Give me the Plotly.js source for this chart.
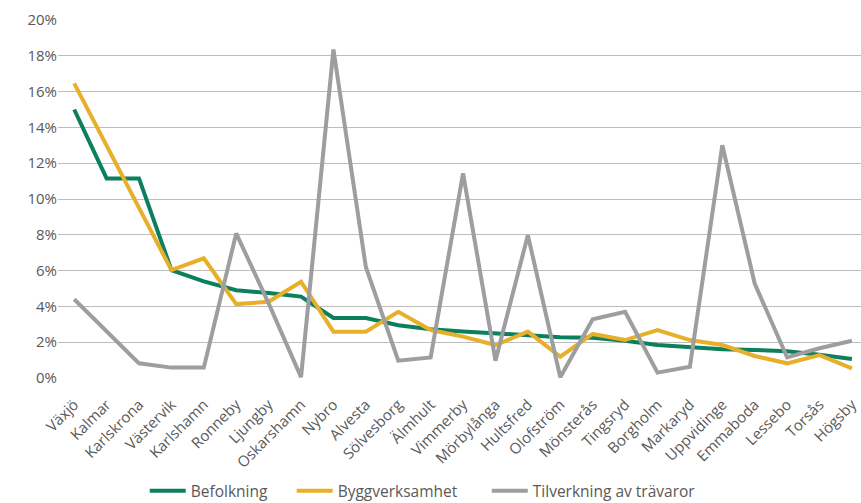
<!DOCTYPE html>
<html>
<head>
<meta charset="utf-8">
<script src="https://cdn.plot.ly/plotly-3.0.1.min.js"></script>
<style>html,body{margin:0;padding:0;background:#fff;}#chart{width:861px;height:503px;}</style>
</head>
<body>
<div id="chart"></div>
<script>
const categories = ["Växjö","Kalmar","Karlskrona","Västervik","Karlshamn","Ronneby","Ljungby","Oskarshamn","Nybro","Alvesta","Sölvesborg","Älmhult","Vimmerby","Mörbylånga","Hultsfred","Olofström","Mönsterås","Tingsryd","Borgholm","Markaryd","Uppvidinge","Emmaboda","Lessebo","Torsås","Högsby"];
const befolkning = [15.0,11.15,11.15,6.03,5.4,4.9,4.75,4.55,3.35,3.35,2.95,2.72,2.6,2.5,2.4,2.28,2.25,2.08,1.85,1.7,1.6,1.57,1.5,1.3,1.06];
const byggverksamhet = [16.46,12.98,9.5,6.03,6.69,4.13,4.26,5.38,2.59,2.59,3.7,2.68,2.31,1.84,2.59,1.19,2.46,2.12,2.68,2.12,1.84,1.23,0.82,1.28,0.54];
const travaror = [4.4,2.64,0.82,0.58,0.58,8.08,4.17,0.05,18.35,6.2,0.97,1.15,11.43,0.97,7.98,0.04,3.28,3.7,0.3,0.63,13.0,5.28,1.15,1.66,2.08];
const seriesNames = ["Befolkning","Byggverksamhet","Tilverkning av trävaror"];
const yTicks = [0,2,4,6,8,10,12,14,16,18,20];

const colors = ["#0c7f5f","#e8b02a","#9c9ea0"];
const legendIds = ["legend","legend2","legend3"];
const data = [befolkning, byggverksamhet, travaror].map((vals, i) => ({
  type: "scatter", mode: "lines", name: seriesNames[i], legend: legendIds[i],
  x: categories, y: vals,
  line: {color: colors[i], width: 4}
}));

const legendStyle = (x) => ({orientation: "h", x: x, xanchor: "left", y: -0.316, yanchor: "middle",
  font: {size: 15.5, color: "#595959"}, itemwidth: 36, bgcolor: "rgba(0,0,0,0)"});

const layout = {
  width: 861, height: 503,
  margin: {l: 58, r: 0, t: 20, b: 125, autoexpand: false},
  paper_bgcolor: "#fff", plot_bgcolor: "#fff",
  font: {family: "Open Sans, Liberation Sans, sans-serif", color: "#595959", size: 13},
  showlegend: true,
  legend: legendStyle(0.108),
  legend2: legendStyle(0.291),
  legend3: legendStyle(0.534),
  xaxis: {type: "category", range: [-0.5, 24.28], tickangle: -45, showgrid: false, automargin: false,
          zeroline: false, showline: false, ticks: "outside", ticklen: 11, tickcolor: "rgba(0,0,0,0)",
          tickfont: {size: 15, color: "#595959"}},
  yaxis: {range: [0, 20], tickvals: yTicks, ticktext: yTicks.map(v => v + "%"), automargin: false,
          showgrid: true, gridcolor: "#bdbdbd", gridwidth: 1, zeroline: false,
          showline: false, ticks: "", tickfont: {size: 15, color: "#595959"}}
};

Plotly.newPlot("chart", data, layout, {staticPlot: true, displayModeBar: false});
</script>
</body>
</html>
